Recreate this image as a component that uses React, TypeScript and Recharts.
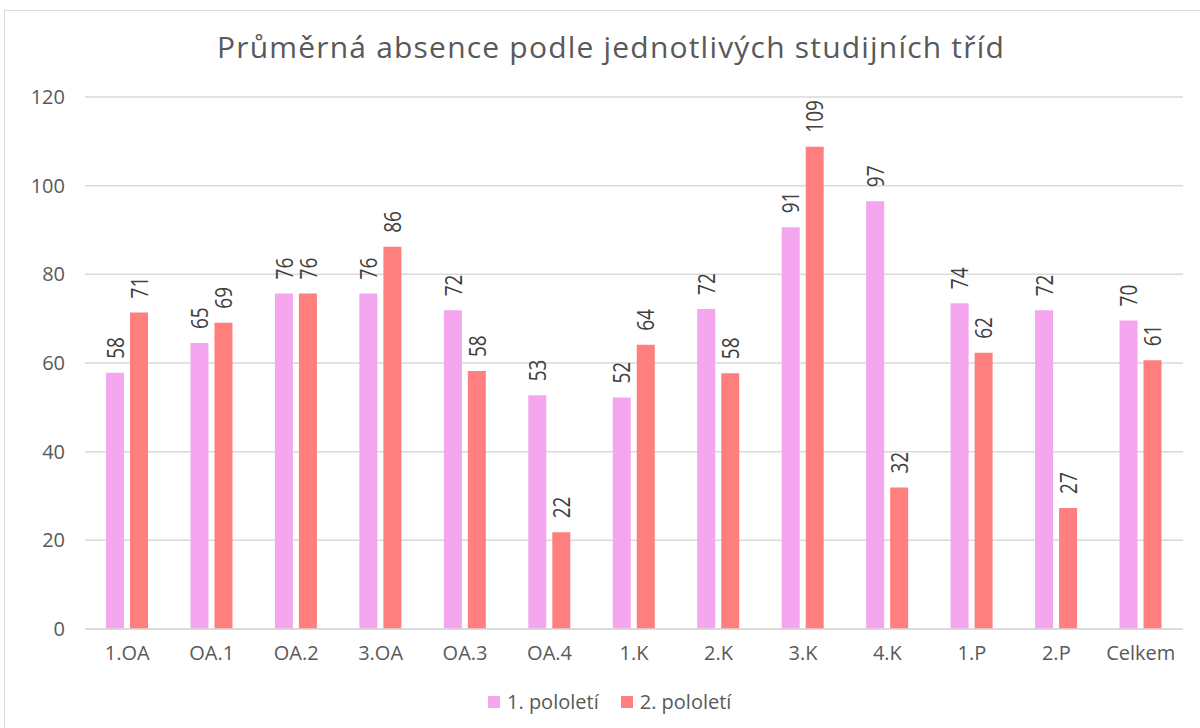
import React from "react";
import { BarChart, Bar, XAxis, YAxis, CartesianGrid, LabelList } from "recharts";

const categories = ["1.OA", "OA.1", "OA.2", "3.OA", "OA.3", "OA.4", "1.K", "2.K", "3.K", "4.K", "1.P", "2.P", "Celkem"];
const firstHalf = [57.8, 64.5, 75.7, 75.7, 71.9, 52.7, 52.2, 72.2, 90.6, 96.5, 73.5, 71.9, 69.6];
const secondHalf = [71.4, 69.1, 75.7, 86.2, 58.2, 21.8, 64.1, 57.7, 108.8, 31.9, 62.3, 27.3, 60.6];
const yTicks = [0, 20, 40, 60, 80, 100, 120];
const seriesNames = ["1. pololetí", "2. pololetí"];
const seriesColors = ["#F4A6EE", "#FF7F7F"];

const data = categories.map((c, i) => ({ name: c, s1: firstHalf[i], s2: secondHalf[i] }));

const FONT = "'Open Sans', sans-serif";

const VLabel = (props: any) => {
  const { x, y, width, value } = props;
  const cx = x + width / 2;
  const ty = y - 14;
  return (
    <text
      x={0}
      y={0}
      transform={`translate(${cx}, ${ty}) rotate(-90) scale(1, 1.2)`}
      textAnchor="start"
      dominantBaseline="central"
      fontSize={19}
      fill="#404040"
      fontFamily={FONT}
    >
      {Math.round(value)}
    </text>
  );
};

export default function App() {
  return (
    <div
      style={{
        position: "absolute",
        left: 4,
        top: 10,
        width: 1200,
        height: 720,
        borderTop: "1px solid #d9d9d9",
        borderLeft: "1px solid #d9d9d9",
        boxSizing: "border-box",
        background: "#fff",
        fontFamily: FONT,
      }}
    >
      <div
        style={{
          position: "absolute",
          top: 16,
          left: 10,
          width: 1192,
          textAlign: "center",
          fontSize: 30,
          letterSpacing: 1.2,
          color: "#595959",
          fontFamily: FONT,
          lineHeight: "40px",
        }}
      >
        Průměrná absence podle jednotlivých studijních tříd
      </div>
      <BarChart
        width={1190}
        height={716}
        data={data}
        margin={{ top: 86, right: 12, bottom: 68, left: 30 }}
        barSize={18}
        barGap={6}
      >
        <CartesianGrid vertical={false} stroke="#d9d9d9" strokeWidth={1.5} />
        <XAxis
          dataKey="name"
          height={30}
          axisLine={{ stroke: "#d9d9d9", strokeWidth: 1.5 }}
          tickLine={false}
          tickSize={0}
          tickMargin={17}
          tick={{ fontSize: 20, fill: "#595959", fontFamily: FONT }}
          interval={0}
        />
        <YAxis
          width={50}
          domain={[0, 120]}
          ticks={yTicks}
          axisLine={false}
          tickLine={false}
          tickSize={0}
          tickMargin={20}
          tick={{ fontSize: 20, fill: "#595959", fontFamily: FONT }}
        />
        <Bar dataKey="s1" name={seriesNames[0]} fill={seriesColors[0]} isAnimationActive={false}>
          <LabelList dataKey="s1" content={VLabel} />
        </Bar>
        <Bar dataKey="s2" name={seriesNames[1]} fill={seriesColors[1]} isAnimationActive={false}>
          <LabelList dataKey="s2" content={VLabel} />
        </Bar>
      </BarChart>
      <div
        style={{
          position: "absolute",
          top: 676,
          left: 483,
          display: "flex",
          alignItems: "center",
          fontSize: 20,
          color: "#595959",
          fontFamily: FONT,
          lineHeight: "30px",
        }}
      >
        {seriesNames.map((n, i) => (
          <div key={n} style={{ display: "flex", alignItems: "center", marginRight: i === 0 ? 22 : 0 }}>
            <span style={{ display: "inline-block", width: 12, height: 12, background: seriesColors[i], marginRight: 7 }} />
            <span>{n}</span>
          </div>
        ))}
      </div>
    </div>
  );
}
